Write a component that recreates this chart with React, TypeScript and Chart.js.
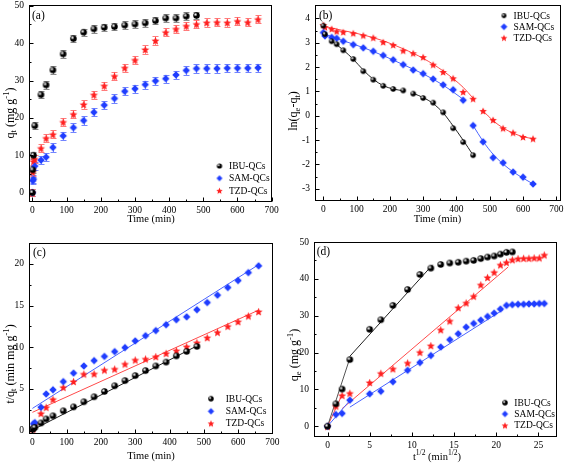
import React, { useEffect, useRef } from "react";
import { Chart, registerables } from "chart.js";
Chart.register(...registerables);

const FONT = "'Liberation Serif', 'Times New Roman', Times, serif";
const SERIES_NAMES = ["IBU-QCs", "SAM-QCs", "TZD-QCs"];

// ---------- (a) q_t vs time ----------
const TIME_A = [0, 1, 3, 7, 25, 40, 60, 90, 120, 150, 180, 210, 240, 270, 300, 330, 360, 390, 420, 450, 480, 510, 540, 570, 600, 630, 660];
const IBU_A = [0, 6.1, 10.0, 17.9, 26.2, 28.8, 32.8, 37.1, 41.2, 42.9, 43.8, 44.2, 44.4, 44.8, 45.1, 45.4, 46.0, 46.7, 46.7, 47.2, 47.4];
const SAM_A = [0, 3.2, 3.6, 7.1, 8.7, 9.5, 12.1, 15.2, 17.4, 19.3, 21.5, 23.4, 25.2, 27.1, 27.8, 28.9, 29.9, 30.5, 31.5, 32.7, 33.2, 33.2, 33.2, 33.3, 33.3, 33.3, 33.4];
const TZD_A = [0, 5.5, 8.4, 9.0, 11.9, 14.6, 15.6, 18.9, 21.0, 23.6, 26.2, 28.6, 31.2, 33.4, 35.5, 38.3, 40.7, 42.9, 43.8, 44.6, 45.1, 45.5, 45.6, 45.5, 45.9, 45.6, 46.4];
const IBU_ERR_A = [0.9, 0.9, 0.9, 0.9, 1.0, 1.0, 1.0, 1.0, 1.0, 1.0, 1.0, 1.0, 1.0, 1.0, 1.0, 1.0, 1.0, 1.0, 1.0, 1.0, 1.0];
const SAM_ERR_A = [1.0, 1.0, 1.0, 1.0, 1.1, 1.1, 1.1, 1.1, 1.1, 1.1, 1.1, 1.1, 1.1, 1.1, 1.1, 1.1, 1.1, 1.1, 1.1, 1.1, 1.1, 1.1, 1.1, 1.1, 1.1, 1.1, 1.1];
const TZD_ERR_A = [1.0, 1.0, 1.0, 1.0, 1.1, 1.1, 1.1, 1.1, 1.1, 1.1, 1.1, 1.1, 1.1, 1.1, 1.1, 1.1, 1.1, 1.1, 1.1, 1.1, 1.1, 1.1, 1.1, 1.1, 1.1, 1.1, 1.1];

// ---------- (b) ln(qe - qt) vs time ----------
const TIME_B_IBU = [0, 5, 25, 40, 60, 90, 120, 150, 180, 210, 240, 270, 300, 330, 360, 390, 420, 450];
const IBU_B = [3.7, 3.35, 3.06, 2.94, 2.69, 2.33, 1.83, 1.48, 1.23, 1.1, 1.04, 0.91, 0.73, 0.54, 0.14, -0.51, -1.08, -1.62];
const TIME_B = [0, 5, 25, 40, 60, 90, 120, 150, 180, 210, 240, 270, 300, 330, 360, 390, 420, 450, 480, 510, 540, 570, 600, 630];
const SAM_B = [3.42, 3.28, 3.22, 3.18, 3.06, 2.92, 2.79, 2.65, 2.48, 2.3, 2.1, 1.88, 1.73, 1.51, 1.27, 1.07, 0.64, -0.4, -1.07, -1.72, -1.93, -2.31, -2.52, -2.8];
const TZD_B = [3.73, 3.64, 3.57, 3.47, 3.44, 3.39, 3.3, 3.21, 3.03, 2.91, 2.68, 2.57, 2.41, 2.1, 1.8, 1.54, 0.98, 0.7, 0.2, -0.17, -0.51, -0.69, -0.87, -0.94];
// fitted curves
const IBU_FIT_B1_X = [25, 60, 90, 120, 150, 180, 210, 240];
const IBU_FIT_B1_Y = [3.08, 2.7, 2.32, 1.88, 1.5, 1.24, 1.1, 1.03];
const IBU_FIT_B2_X = [270, 300, 330, 360, 390, 420, 450];
const IBU_FIT_B2_Y = [0.92, 0.75, 0.5, 0.12, -0.42, -1.0, -1.62];
const SAM_FIT_B1_X = [0, 60, 120, 180, 240, 300, 360, 420];
const SAM_FIT_B1_Y = [3.38, 3.08, 2.8, 2.47, 2.1, 1.72, 1.26, 0.68];
const SAM_FIT_B2_X = [450, 480, 510, 540, 570, 600, 630];
const SAM_FIT_B2_Y = [-0.4, -1.05, -1.58, -1.98, -2.3, -2.56, -2.8];
const TZD_FIT_B1_X = [0, 60, 120, 180, 240, 300, 360, 420, 450];
const TZD_FIT_B1_Y = [3.68, 3.5, 3.32, 3.08, 2.75, 2.36, 1.84, 1.17, 0.72];
const TZD_FIT_B2_X = [480, 510, 540, 570, 600, 630];
const TZD_FIT_B2_Y = [0.2, -0.2, -0.5, -0.71, -0.86, -0.94];

// ---------- (c) t/qt vs time ----------
const TIME_C_IBU = [1, 3, 7, 25, 40, 60, 90, 120, 150, 180, 210, 240, 270, 300, 330, 360, 390, 420, 450, 480];
const IBU_C = [0.16, 0.3, 0.39, 0.92, 1.4, 1.78, 2.38, 2.85, 3.46, 4.06, 4.7, 5.38, 6.0, 6.6, 7.2, 7.76, 8.22, 8.96, 9.5, 10.1];
const TIME_C = [1, 3, 7, 25, 40, 60, 90, 120, 150, 180, 210, 240, 270, 300, 330, 360, 390, 420, 450, 480, 510, 540, 570, 600, 630, 660];
const SAM_C = [0.3, 0.83, 0.97, 2.8, 4.4, 4.9, 5.88, 6.9, 7.76, 8.4, 8.9, 9.48, 9.96, 10.76, 11.38, 12.0, 12.7, 13.3, 13.65, 14.5, 15.36, 16.25, 17.16, 18.0, 18.95, 19.76];
const TZD_C = [0.18, 0.35, 0.78, 2.08, 2.8, 3.76, 5.2, 5.9, 6.8, 6.82, 7.28, 7.4, 8.0, 8.48, 8.6, 8.88, 9.28, 9.6, 10.08, 10.56, 11.16, 11.8, 12.52, 13.08, 13.76, 14.28];
const IBU_FIT_C_X = [0, 480];
const IBU_FIT_C_Y = [0.08, 10.16];
const SAM_FIT_C_X = [0, 660];
const SAM_FIT_C_Y = [2.67, 19.9];
const TZD_FIT_C_X = [0, 660];
const TZD_FIT_C_Y = [2.2, 14.45];

// ---------- (d) qt vs t^1/2 ----------
const SQRT_T = [0, 1, 1.73, 2.65, 5, 6.32, 7.75, 9.49, 10.95, 12.25, 13.42, 14.49, 15.49, 16.43, 17.32, 18.17, 18.97, 19.75, 20.49, 21.21, 21.91, 22.58, 23.24, 23.87, 24.49, 25.1, 25.69];
const IBU_D = [0, 6.1, 10.1, 18.1, 26.3, 28.9, 32.8, 37.1, 41.2, 42.9, 43.9, 44.3, 44.5, 44.8, 45.0, 45.5, 45.9, 46.2, 46.7, 47.2, 47.3];
const SAM_D = [0, 3.2, 3.5, 7.1, 8.8, 9.5, 12.1, 15.2, 17.3, 19.2, 21.5, 23.5, 25.1, 26.9, 27.9, 28.8, 29.8, 30.7, 31.8, 32.8, 33.0, 33.1, 33.1, 33.2, 33.2, 33.3, 33.3];
const TZD_D = [0, 5.5, 8.4, 9.0, 11.9, 14.4, 15.6, 17.2, 20.1, 21.9, 26.2, 28.6, 32.2, 33.5, 35.3, 38.4, 40.4, 41.8, 43.8, 44.5, 45.2, 45.5, 45.6, 45.6, 45.7, 45.7, 46.5];
const IBU_FIT_D1_X = [0, 2.65];
const IBU_FIT_D1_Y = [0, 18.5];
const IBU_FIT_D2_X = [2.65, 12.45];
const IBU_FIT_D2_Y = [19.0, 43.8];
const SAM_FIT_D1_X = [0, 2.65];
const SAM_FIT_D1_Y = [0, 7.0];
const SAM_FIT_D2_X = [2.65, 20.8];
const SAM_FIT_D2_Y = [5.2, 31.6];
const TZD_FIT_D1_X = [0, 1.73];
const TZD_FIT_D1_Y = [0, 8.6];
const TZD_FIT_D2_X = [1.73, 21.4];
const TZD_FIT_D2_Y = [4.8, 43.2];

// ---------- ticks ----------
const TIME_TICKS = [0, 100, 200, 300, 400, 500, 600, 700];
const TIME_MINOR = [50, 150, 250, 350, 450, 550, 650];
const QA_TICKS = [0, 10, 20, 30, 40, 50];
const QA_MINOR = [5, 15, 25, 35, 45];
const LN_TICKS = [-3, -2, -1, 0, 1, 2, 3, 4];
const LN_MINOR = [-2.5, -1.5, -0.5, 0.5, 1.5, 2.5, 3.5];
const TQ_TICKS = [0, 5, 10, 15, 20];
const TQ_MINOR = [2.5, 7.5, 12.5, 17.5];
const SQ_TICKS = [0, 5, 10, 15, 20, 25];
const SQ_MINOR = [2.5, 7.5, 12.5, 17.5, 22.5];

type Part = [string, number];
const TIME_TITLE: Part[] = [["Time (min)", 0]];
const A_YTITLE: Part[] = [["q", 0], ["t", -1], [" (mg g", 0], ["-1", 1], [")", 0]];
const B_YTITLE: Part[] = [["ln(q", 0], ["e", -1], ["-q", 0], ["t", -1], [")", 0]];
const C_YTITLE: Part[] = [["t/q", 0], ["t", -1], [" (min mg g", 0], ["-1", 1], [")", 0]];
const D_YTITLE: Part[] = [["q", 0], ["e", -1], [" (mg g", 0], ["-1", 1], [")", 0]];
const D_XTITLE: Part[] = [["t", 0], ["1/2", 1], [" (min", 0], ["1/2", 1], [")", 0]];

const COLORS = {
  sam: "#1f3dff",
  tzd: "#ff2020",
  ibuFit: "#222222",
  samFit: "#4a64ff",
  tzdFit: "#ff4a4a",
  ibuErr: "#8c8c8c",
  samErr: "#7385ff",
  tzdErr: "#ff7d7d",
};

function pts(xs: number[], ys: number[]) {
  return ys.map((y, i) => ({ x: xs[i], y }));
}

function makeMarker(kind: string, size: number): HTMLCanvasElement {
  const s = Math.ceil(size) + 2;
  const c = document.createElement("canvas");
  c.width = s;
  c.height = s;
  const ctx = c.getContext("2d")!;
  const cx = s / 2, cy = s / 2, r = size / 2;
  if (kind === "sphere") {
    ctx.fillStyle = "#000";
    ctx.beginPath();
    ctx.arc(cx, cy, r, 0, Math.PI * 2);
    ctx.fill();
    const g = ctx.createRadialGradient(cx - r * 0.3, cy - r * 0.3, 0, cx - r * 0.3, cy - r * 0.3, r * 0.65);
    g.addColorStop(0, "rgba(245,245,245,1)");
    g.addColorStop(0.6, "rgba(170,170,170,0.7)");
    g.addColorStop(1, "rgba(0,0,0,0)");
    ctx.fillStyle = g;
    ctx.beginPath();
    ctx.arc(cx, cy, r, 0, Math.PI * 2);
    ctx.fill();
  } else if (kind === "diamond") {
    ctx.fillStyle = COLORS.sam;
    ctx.beginPath();
    ctx.moveTo(cx, cy - r);
    ctx.lineTo(cx + r, cy);
    ctx.lineTo(cx, cy + r);
    ctx.lineTo(cx - r, cy);
    ctx.closePath();
    ctx.fill();
  } else {
    ctx.fillStyle = COLORS.tzd;
    ctx.beginPath();
    const inner = r * 0.45;
    for (let i = 0; i < 10; i++) {
      const a = -Math.PI / 2 + (i * Math.PI) / 5;
      const rr = i % 2 === 0 ? r : inner;
      const px = cx + rr * Math.cos(a), py = cy + 0.5 + rr * Math.sin(a);
      if (i === 0) ctx.moveTo(px, py);
      else ctx.lineTo(px, py);
    }
    ctx.closePath();
    ctx.fill();
  }
  return c;
}

function drawRich(ctx: CanvasRenderingContext2D, parts: Part[], cx: number, cy: number, size: number, rotate: boolean) {
  ctx.save();
  ctx.translate(cx, cy);
  if (rotate) ctx.rotate(-Math.PI / 2);
  const small = size * 0.72;
  let total = 0;
  const widths = parts.map(([t, k]) => {
    ctx.font = `${k ? small : size}px ${FONT}`;
    const w = ctx.measureText(t).width;
    total += w;
    return w;
  });
  let x = -total / 2;
  ctx.textBaseline = "middle";
  ctx.textAlign = "left";
  ctx.fillStyle = "#000";
  parts.forEach(([t, k], i) => {
    ctx.font = `${k ? small : size}px ${FONT}`;
    const dy = k === -1 ? size * 0.3 : k === 1 ? -size * 0.35 : 0;
    ctx.fillText(t, x, dy);
    x += widths[i];
  });
  ctx.restore();
}

interface SeriesCfg { xs: number[]; ys: number[]; marker: string; size: number; err?: number[]; errColor?: string }
interface FitCfg { xs: number[]; ys: number[]; color: string; smooth?: boolean }
interface PanelCfg {
  left: number; top: number; width: number; height: number;
  pad: { left: number; top: number; right: number; bottom: number };
  yAxisW: number; xAxisH: number;
  xMin: number; xMax: number; yMin: number; yMax: number;
  xTicks: number[]; xMinor: number[]; yTicks: number[]; yMinor: number[];
  series: SeriesCfg[]; fits: FitCfg[];
  legend: { mx: number; tx: number; ys: number[]; msize: number };
  label: { text: string; x: number; y: number };
  xTitle: { parts: Part[]; x: number; y: number };
  yTitle: { parts: Part[]; x: number; y: number };
}

function buildChart(canvas: HTMLCanvasElement, cfg: PanelCfg) {
  const markerImgs = cfg.series.map((s) => makeMarker(s.marker, s.size));
  const legendImgs = cfg.series.map((s) => makeMarker(s.marker, s.size * cfg.legend.msize));

  const datasets: any[] = [];
  cfg.series.forEach((s, i) => {
    datasets.push({
      label: SERIES_NAMES[i],
      data: pts(s.xs, s.ys),
      pointStyle: markerImgs[i],
      pointRadius: 4,
      showLine: false,
      order: 0,
    });
  });
  cfg.fits.forEach((f) => {
    datasets.push({
      label: "fit",
      data: pts(f.xs, f.ys),
      showLine: true,
      pointRadius: 0,
      borderColor: f.color,
      borderWidth: 1,
      tension: f.smooth ? 0.4 : 0,
      cubicInterpolationMode: f.smooth ? "monotone" : "default",
      order: 1,
    });
  });

  const plugin = {
    id: "panelDecor",
    beforeDatasetsDraw(chart: any) {
      const ctx = chart.ctx as CanvasRenderingContext2D;
      const ys = chart.scales.y;
      const area = chart.chartArea;
      ctx.save();
      ctx.beginPath();
      ctx.rect(area.left, area.top, area.right - area.left, area.bottom - area.top);
      ctx.clip();
      cfg.series.forEach((s, i) => {
        if (!s.err) return;
        const meta = chart.getDatasetMeta(i);
        ctx.strokeStyle = s.errColor || "#888";
        ctx.lineWidth = 1;
        meta.data.forEach((pt: any, j: number) => {
          const v = s.ys[j];
          const e = s.err![j];
          const x = Math.round(pt.x) + 0.5;
          const y1 = Math.round(ys.getPixelForValue(v + e)) + 0.5;
          const y2 = Math.round(ys.getPixelForValue(v - e)) + 0.5;
          ctx.beginPath();
          ctx.moveTo(x, y1);
          ctx.lineTo(x, y2);
          ctx.moveTo(x - 3, y1);
          ctx.lineTo(x + 3, y1);
          ctx.moveTo(x - 3, y2);
          ctx.lineTo(x + 3, y2);
          ctx.stroke();
        });
      });
      ctx.restore();
    },
    afterDraw(chart: any) {
      const ctx = chart.ctx as CanvasRenderingContext2D;
      const a = chart.chartArea;
      const xs = chart.scales.x, ys = chart.scales.y;
      const L = Math.round(a.left) + 0.5, R = Math.round(a.right) - 0.5;
      const T = Math.round(a.top) + 0.5, B = Math.round(a.bottom) - 0.5;
      ctx.save();
      ctx.strokeStyle = "#000";
      ctx.lineWidth = 1;
      ctx.strokeRect(L, T, R - L, B - T);
      ctx.beginPath();
      const tickX = (vals: number[], len: number) => vals.forEach((v) => {
        const px = Math.round(xs.getPixelForValue(v)) + 0.5;
        ctx.moveTo(px, B);
        ctx.lineTo(px, B - len);
      });
      const tickY = (vals: number[], len: number) => vals.forEach((v) => {
        const py = Math.round(ys.getPixelForValue(v)) + 0.5;
        ctx.moveTo(L, py);
        ctx.lineTo(L + len, py);
      });
      tickX(cfg.xTicks, 4);
      tickX(cfg.xMinor, 2);
      tickY(cfg.yTicks, 4);
      tickY(cfg.yMinor, 2);
      ctx.stroke();

      // legend
      ctx.font = `9.5px ${FONT}`;
      ctx.textBaseline = "middle";
      ctx.textAlign = "left";
      ctx.fillStyle = "#000";
      cfg.series.forEach((_s, i) => {
        const img = legendImgs[i];
        const y = cfg.legend.ys[i];
        ctx.drawImage(img, cfg.legend.mx - img.width / 2, y - img.height / 2);
        ctx.fillText(SERIES_NAMES[i], cfg.legend.tx, y + 0.5);
      });

      // panel label
      ctx.font = `11.5px ${FONT}`;
      ctx.fillText(cfg.label.text, cfg.label.x, cfg.label.y);
      ctx.restore();

      drawRich(ctx, cfg.xTitle.parts, cfg.xTitle.x, cfg.xTitle.y, 10.5, false);
      drawRich(ctx, cfg.yTitle.parts, cfg.yTitle.x, cfg.yTitle.y, 12, true);
    },
  };

  const tickFont = { family: FONT, size: 9.5 };
  return new Chart(canvas, {
    type: "scatter",
    data: { datasets },
    options: {
      animation: false,
      responsive: false,
      devicePixelRatio: 1,
      events: [],
      layout: { padding: cfg.pad },
      plugins: { legend: { display: false }, tooltip: { enabled: false } },
      scales: {
        x: {
          type: "linear",
          min: cfg.xMin,
          max: cfg.xMax,
          grid: { display: false, drawTicks: false },
          border: { display: false },
          ticks: { font: tickFont, color: "#000", padding: 3, maxRotation: 0, autoSkip: false },
          afterBuildTicks: (axis: any) => { axis.ticks = cfg.xTicks.map((v) => ({ value: v })); },
          afterFit: (axis: any) => { axis.height = cfg.xAxisH; axis.paddingLeft = 0; axis.paddingRight = 0; },
        },
        y: {
          type: "linear",
          min: cfg.yMin,
          max: cfg.yMax,
          grid: { display: false, drawTicks: false },
          border: { display: false },
          ticks: { font: tickFont, color: "#000", padding: 5, autoSkip: false },
          afterBuildTicks: (axis: any) => { axis.ticks = cfg.yTicks.map((v) => ({ value: v })); },
          afterFit: (axis: any) => { axis.width = cfg.yAxisW; axis.paddingTop = 0; axis.paddingBottom = 0; },
        },
      },
    } as any,
    plugins: [plugin as any],
  });
}

function Panel({ cfg }: { cfg: PanelCfg }) {
  const ref = useRef<HTMLCanvasElement>(null);
  useEffect(() => {
    const chart = buildChart(ref.current!, cfg);
    return () => chart.destroy();
  }, []);
  return (
    <canvas
      ref={ref}
      width={cfg.width}
      height={cfg.height}
      style={{ position: "absolute", left: cfg.left, top: cfg.top, width: cfg.width, height: cfg.height }}
    />
  );
}

const PANEL_A: PanelCfg = {
  left: 0, top: 0, width: 283, height: 230,
  pad: { left: 0, top: 5, right: 11, bottom: 0 }, yAxisW: 29, xAxisH: 28,
  xMin: -10, xMax: 701, yMin: -2.5, yMax: 50.2,
  xTicks: TIME_TICKS, xMinor: TIME_MINOR, yTicks: QA_TICKS, yMinor: QA_MINOR,
  series: [
    { xs: TIME_A, ys: IBU_A, marker: "sphere", size: 6.5, err: IBU_ERR_A, errColor: COLORS.ibuErr },
    { xs: TIME_A, ys: SAM_A, marker: "diamond", size: 7.5, err: SAM_ERR_A, errColor: COLORS.samErr },
    { xs: TIME_A, ys: TZD_A, marker: "star", size: 8.5, err: TZD_ERR_A, errColor: COLORS.tzdErr },
  ],
  fits: [],
  legend: { mx: 219.5, tx: 229, ys: [166, 178.3, 190.6], msize: 0.8 },
  label: { text: "(a)", x: 32, y: 15.7 },
  xTitle: { parts: TIME_TITLE, x: 151, y: 219 },
  yTitle: { parts: A_YTITLE, x: 10.5, y: 113 },
};

const PANEL_B: PanelCfg = {
  left: 283, top: 0, width: 284, height: 230,
  pad: { left: 0, top: 5, right: 6, bottom: 0 }, yAxisW: 32, xAxisH: 29,
  xMin: -25, xMax: 714, yMin: -3.5, yMax: 4.55,
  xTicks: TIME_TICKS, xMinor: TIME_MINOR, yTicks: LN_TICKS, yMinor: LN_MINOR,
  series: [
    { xs: TIME_B_IBU, ys: IBU_B, marker: "sphere", size: 5.5 },
    { xs: TIME_B, ys: SAM_B, marker: "diamond", size: 7.5 },
    { xs: TIME_B, ys: TZD_B, marker: "star", size: 8 },
  ],
  fits: [
    { xs: IBU_FIT_B1_X, ys: IBU_FIT_B1_Y, color: COLORS.ibuFit, smooth: true },
    { xs: IBU_FIT_B2_X, ys: IBU_FIT_B2_Y, color: COLORS.ibuFit, smooth: true },
    { xs: SAM_FIT_B1_X, ys: SAM_FIT_B1_Y, color: COLORS.samFit, smooth: true },
    { xs: SAM_FIT_B2_X, ys: SAM_FIT_B2_Y, color: COLORS.samFit, smooth: true },
    { xs: TZD_FIT_B1_X, ys: TZD_FIT_B1_Y, color: COLORS.tzdFit, smooth: true },
    { xs: TZD_FIT_B2_X, ys: TZD_FIT_B2_Y, color: COLORS.tzdFit, smooth: true },
  ],
  legend: { mx: 221, tx: 230.5, ys: [15.7, 26.7, 37.7], msize: 0.9 },
  label: { text: "(b)", x: 36, y: 15.7 },
  xTitle: { parts: TIME_TITLE, x: 154.5, y: 219 },
  yTitle: { parts: B_YTITLE, x: 11, y: 111 },
};

const PANEL_C: PanelCfg = {
  left: 0, top: 230, width: 283, height: 233,
  pad: { left: 0, top: 13, right: 10, bottom: 0 }, yAxisW: 29, xAxisH: 29,
  xMin: -10, xMax: 702, yMin: -0.4, yMax: 22.5,
  xTicks: TIME_TICKS, xMinor: TIME_MINOR, yTicks: TQ_TICKS, yMinor: TQ_MINOR,
  series: [
    { xs: TIME_C_IBU, ys: IBU_C, marker: "sphere", size: 6.5 },
    { xs: TIME_C, ys: SAM_C, marker: "diamond", size: 7.5 },
    { xs: TIME_C, ys: TZD_C, marker: "star", size: 8.5 },
  ],
  fits: [
    { xs: IBU_FIT_C_X, ys: IBU_FIT_C_Y, color: COLORS.ibuFit },
    { xs: SAM_FIT_C_X, ys: SAM_FIT_C_Y, color: COLORS.samFit },
    { xs: TZD_FIT_C_X, ys: TZD_FIT_C_Y, color: COLORS.tzdFit },
  ],
  legend: { mx: 211, tx: 225.7, ys: [168.7, 181.3, 193.3], msize: 0.85 },
  label: { text: "(c)", x: 33, y: 23.3 },
  xTitle: { parts: TIME_TITLE, x: 151, y: 226 },
  yTitle: { parts: C_YTITLE, x: 10.5, y: 134 },
};

const PANEL_D: PanelCfg = {
  left: 283, top: 230, width: 284, height: 233,
  pad: { left: 0, top: 12, right: 10, bottom: 0 }, yAxisW: 31, xAxisH: 26,
  xMin: -1.6, xMax: 27.2, yMin: -2.9, yMax: 50,
  xTicks: SQ_TICKS, xMinor: SQ_MINOR, yTicks: QA_TICKS, yMinor: QA_MINOR,
  series: [
    { xs: SQRT_T, ys: IBU_D, marker: "sphere", size: 6.5 },
    { xs: SQRT_T, ys: SAM_D, marker: "diamond", size: 7.5 },
    { xs: SQRT_T, ys: TZD_D, marker: "star", size: 8.5 },
  ],
  fits: [
    { xs: IBU_FIT_D1_X, ys: IBU_FIT_D1_Y, color: "#555555" },
    { xs: IBU_FIT_D2_X, ys: IBU_FIT_D2_Y, color: COLORS.ibuFit },
    { xs: SAM_FIT_D1_X, ys: SAM_FIT_D1_Y, color: COLORS.samFit },
    { xs: SAM_FIT_D2_X, ys: SAM_FIT_D2_Y, color: COLORS.samFit },
    { xs: TZD_FIT_D1_X, ys: TZD_FIT_D1_Y, color: COLORS.tzdFit },
    { xs: TZD_FIT_D2_X, ys: TZD_FIT_D2_Y, color: COLORS.tzdFit },
  ],
  legend: { mx: 222, tx: 231.3, ys: [172.7, 184, 195.3], msize: 0.85 },
  label: { text: "(d)", x: 33.7, y: 21.7 },
  xTitle: { parts: D_XTITLE, x: 154, y: 227 },
  yTitle: { parts: D_YTITLE, x: 12, y: 125 },
};

export default function App() {
  return (
    <div style={{ position: "absolute", left: 0, top: 0, width: 567, height: 463, background: "#fff", overflow: "hidden" }}>
      <Panel cfg={PANEL_A} />
      <Panel cfg={PANEL_B} />
      <Panel cfg={PANEL_C} />
      <Panel cfg={PANEL_D} />
    </div>
  );
}
